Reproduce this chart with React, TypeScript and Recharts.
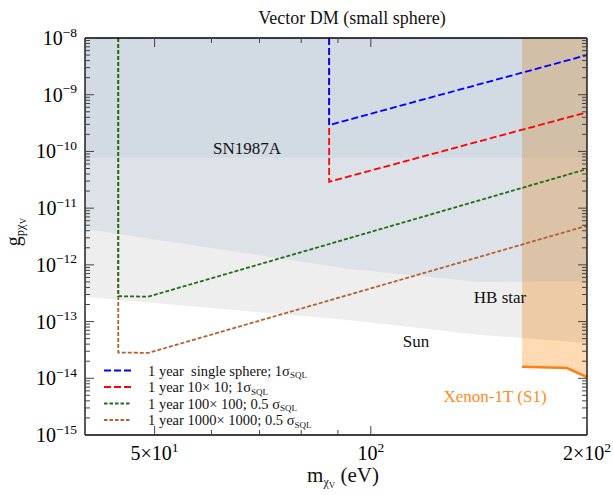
import { ComposedChart, Area, Line, XAxis, YAxis } from 'recharts';

const FONT = '"Liberation Serif", "Times New Roman", serif';

// excluded regions: lower edge of each band, shaded up to the top of the plot
const G_TOP = 1e-8;
const snMass = [40, 200];
const snLower = [7.75e-11, 7.75e-11];
const hbMass = [40, 93.6, 115, 142, 200];
const hbLower = [4.3e-12, 8.45e-13, 6.5e-13, 5.0e-13, 5.1e-13];
const sunMass = [40, 93.6, 142, 200];
const sunLower = [2.71e-13, 1.06e-13, 5.8e-14, 4.2e-14];
const xenonMass = [162.4, 187.6, 200];
const xenonLower = [1.6e-14, 1.52e-14, 1.05e-14];

// projected reach
const singleMass = [87.5, 87.5, 200];
const singleG = [1e-8, 2.92e-10, 5.0e-9];
const tenMass = [87.5, 87.5, 200];
const tenG = [1e-8, 2.92e-11, 4.9e-10];
const hundredMass = [44.5, 44.5, 49, 200];
const hundredG = [1e-8, 2.8e-13, 2.75e-13, 4.9e-11];
const thousandMass = [44.5, 44.5, 49, 200];
const thousandG = [1e-8, 2.85e-14, 2.8e-14, 4.9e-12];

// ticks
const xTicks = [50, 60, 70, 80, 90, 100, 200];
const xTickLabels: Record<number, [string, string]> = {
  50: ['5×10', '1'],
  100: ['10', '2'],
  200: ['2×10', '2'],
};
const yDecades = [1e-15, 1e-14, 1e-13, 1e-12, 1e-11, 1e-10, 1e-9, 1e-8];
const yExponents = ['−15', '−14', '−13', '−12', '−11', '−10', '−9', '−8'];
const yMinorMult = [2, 3, 4, 5, 6, 7, 8, 9];
const yTicks = [
  ...yDecades,
  ...yDecades.slice(0, -1).flatMap(d => yMinorMult.map(k => k * d)),
];

const legendItems = [
  { label: '1 year\u00a0 single sphere; 1σ', color: '#0000ff', dash: '7 3' },
  { label: '1 year 10× 10; 1σ', color: '#ff0000', dash: '7 3' },
  { label: '1 year 100× 100; 0.5 σ', color: '#1f6e14', dash: '3.5 2' },
  { label: '1 year 1000× 1000; 0.5 σ', color: '#b5602f', dash: '3.5 2' },
];

const band = (ms: number[], lows: number[]) => ms.map((m, i) => ({ m, g: [lows[i], G_TOP] }));
const curve = (ms: number[], gs: number[]) => ms.map((m, i) => ({ m, g: gs[i] }));

const majorY = (v: number) => yDecades.findIndex(d => Math.abs(v / d - 1) < 1e-6);
const TICK = '#444';

function LeftTick(props: any) {
  const { x, y, payload } = props;
  const i = majorY(payload.value);
  return (
    <g>
      <line x1={x} x2={x + (i >= 0 ? 9 : 5)} y1={y} y2={y} stroke={TICK} />
      {i >= 0 && (
        <text x={x - 8} y={y + 7} textAnchor="end" fontFamily={FONT} fill="#000">
          <tspan fontSize={20}>10</tspan>
          <tspan fontSize={13.5} dy={-8.5}>{yExponents[i]}</tspan>
        </text>
      )}
    </g>
  );
}

function RightTick(props: any) {
  const { x, y, payload } = props;
  const i = majorY(payload.value);
  return <line x1={x} x2={x - (i >= 0 ? 9 : 5)} y1={y} y2={y} stroke={TICK} />;
}

function BottomTick(props: any) {
  const { x, y, payload } = props;
  const lab = xTickLabels[payload.value];
  return (
    <g>
      <line x1={x} x2={x} y1={y} y2={y - (lab ? 9 : 5)} stroke={TICK} />
      {lab && (
        <text x={x} y={y + 25} textAnchor="middle" fontFamily={FONT} fill="#000">
          <tspan fontSize={20}>{lab[0]}</tspan>
          <tspan fontSize={13.5} dy={-8.5}>{lab[1]}</tspan>
        </text>
      )}
    </g>
  );
}

function TopTick(props: any) {
  const { x, y, payload } = props;
  const lab = xTickLabels[payload.value];
  return <line x1={x} x2={x} y1={y} y2={y + (lab ? 9 : 5)} stroke={TICK} />;
}

const frame = { stroke: '#000', strokeWidth: 1.3 };

function Annotations() {
  return (
    <svg width={613} height={495} style={{ position: 'absolute', left: 0, top: 0, pointerEvents: 'none' }}>
      <g fontFamily={FONT} fill="#111">
        <text x={352} y={24} fontSize={18} textAnchor="middle">Vector DM (small sphere)</text>
        <text x={247} y={154} fontSize={17} textAnchor="middle">SN1987A</text>
        <text x={500} y={303} fontSize={17} textAnchor="middle">HB star</text>
        <text x={416} y={347} fontSize={17} textAnchor="middle">Sun</text>
        <text x={495} y={402} fontSize={17} textAnchor="middle" fill="#ff8c1a">Xenon-1T (S1)</text>
        <text x={343} y={482} fontSize={21} textAnchor="middle">
          <tspan>m</tspan>
          <tspan fontSize={12} dy={4}>χ</tspan>
          <tspan fontSize={9} dy={2}>V</tspan>
          <tspan fontSize={21} dy={-6}> (eV)</tspan>
        </text>
        <text x={20} y={232} fontSize={20} textAnchor="middle" transform="rotate(-90 20 232)">
          <tspan>g</tspan>
          <tspan fontSize={12.5} dy={4}>pχ</tspan>
          <tspan fontSize={9} dy={2}>V</tspan>
        </text>
        {legendItems.map((it, i) => {
          const y = 370.5 + i * 16.5;
          return (
            <g key={it.label}>
              <line x1={104} x2={131} y1={y} y2={y} stroke={it.color} strokeWidth={1.8} strokeDasharray={it.dash} />
              <text x={148} y={y + 5} fontSize={14.5}>
                {it.label}
                <tspan fontSize={9} dy={2.5}>SQL</tspan>
              </text>
            </g>
          );
        })}
      </g>
    </svg>
  );
}

export default function App() {
  return (
    <div style={{ position: 'absolute', left: 0, top: 0, width: 613, height: 495, background: '#fff' }}>
      <ComposedChart width={613} height={495} margin={{ top: 28, right: 16, bottom: 0, left: 0 }}>
        <Area xAxisId="b" yAxisId="l" data={band(xenonMass, xenonLower)} dataKey="g" type="linear"
          fill="#ffdab3" fillOpacity={1} stroke="none" isAnimationActive={false} />
        <Area xAxisId="b" yAxisId="l" data={band(sunMass, sunLower)} dataKey="g" type="linear"
          fill="#000000" fillOpacity={0.065} stroke="none" isAnimationActive={false} />
        <Area xAxisId="b" yAxisId="l" data={band(hbMass, hbLower)} dataKey="g" type="linear"
          fill="#4682b4" fillOpacity={0.1} stroke="none" isAnimationActive={false} />
        <Area xAxisId="b" yAxisId="l" data={band(snMass, snLower)} dataKey="g" type="linear"
          fill="#4682b4" fillOpacity={0.065} stroke="none" isAnimationActive={false} />

        <Line xAxisId="b" yAxisId="l" data={curve(xenonMass, xenonLower)} dataKey="g" type="linear"
          stroke="#ff7f0e" strokeWidth={2.6} dot={false} isAnimationActive={false} />
        <Line xAxisId="b" yAxisId="l" data={curve(thousandMass, thousandG)} dataKey="g" type="linear"
          stroke="#b5602f" strokeWidth={1.8} strokeDasharray="4 2" dot={false} isAnimationActive={false} />
        <Line xAxisId="b" yAxisId="l" data={curve(hundredMass, hundredG)} dataKey="g" type="linear"
          stroke="#1f6e14" strokeWidth={1.8} strokeDasharray="4 2" dot={false} isAnimationActive={false} />
        <Line xAxisId="b" yAxisId="l" data={curve(tenMass, tenG)} dataKey="g" type="linear"
          stroke="#ff0000" strokeWidth={1.8} strokeDasharray="7 3" dot={false} isAnimationActive={false} />
        <Line xAxisId="b" yAxisId="l" data={curve(singleMass, singleG)} dataKey="g" type="linear"
          stroke="#0000ff" strokeWidth={1.8} strokeDasharray="7 3" dot={false} isAnimationActive={false} />

        <XAxis xAxisId="b" orientation="bottom" dataKey="m" type="number" scale="log" domain={[40, 200]}
          allowDataOverflow ticks={xTicks} interval={0} tick={<BottomTick />} tickLine={false}
          tickSize={0} tickMargin={0} height={60} axisLine={frame} />
        <XAxis xAxisId="t" orientation="top" dataKey="m" type="number" scale="log" domain={[40, 200]}
          allowDataOverflow ticks={xTicks} interval={0} tick={<TopTick />} tickLine={false}
          tickSize={0} tickMargin={0} height={10} axisLine={frame} />
        <YAxis yAxisId="l" orientation="left" type="number" scale="log" domain={[1e-15, 1e-8]}
          allowDataOverflow ticks={yTicks} interval={0} tick={<LeftTick />} tickLine={false}
          tickSize={0} tickMargin={0} width={85} axisLine={frame} />
        <YAxis yAxisId="r" orientation="right" type="number" scale="log" domain={[1e-15, 1e-8]}
          allowDataOverflow ticks={yTicks} interval={0} tick={<RightTick />} tickLine={false}
          tickSize={0} tickMargin={0} width={10} axisLine={frame} />
      </ComposedChart>
      <Annotations />
    </div>
  );
}
